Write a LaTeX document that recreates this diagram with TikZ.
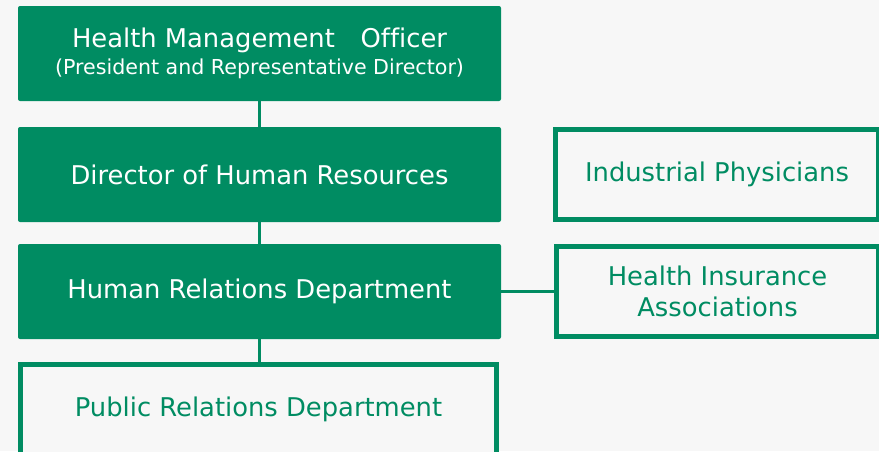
\documentclass[tikz,border=0pt]{standalone}
\usepackage{fontspec}
\setmainfont[Ligatures=NoCommon]{DejaVu Sans}
\definecolor{hgreen}{HTML}{008C62}
\definecolor{bgc}{HTML}{F7F7F7}
\begin{document}
\begin{tikzpicture}[x=1pt,y=-1pt,
  fillbox/.style={rectangle, rounded corners=2pt, fill=hgreen, text=white, minimum width=483pt, minimum height=95pt, inner sep=0pt, align=center, font=\fontsize{25.8}{31}\selectfont},
  linebox/.style={rectangle, draw=hgreen, line width=5pt, fill=bgc, text=hgreen, inner sep=0pt, align=center, font=\fontsize{25.8}{31}\selectfont},
  conn/.style={draw=hgreen, line width=3pt}]
\fill[bgc] (0,0) rectangle (879,451);
\useasboundingbox (0,0) rectangle (879,451);
\node[fillbox] (hmo) at (259.5,53.5) {Health Management\hspace{1em}Officer\\[-4pt]{\fontsize{20.6}{24}\selectfont(President and Representative Director)}};
\node[fillbox] (dhr) at (259.5,174.5) {Director of Human Resources};
\node[fillbox] (hrd) at (259.5,291.5) {Human Relations Department};
\node[linebox, minimum width=476pt, minimum height=90pt] (prd) at (258.5,409.5) {Public Relations Department};
\node[linebox, minimum width=323pt, minimum height=90pt] (ip) at (717,174.5) {Industrial Physicians};
\node[linebox, minimum width=322pt, minimum height=90pt] (hia) at (717.5,291.5) {Health Insurance\\Associations};
\draw[conn] (hmo.south) -- (dhr.north);
\draw[conn] (dhr.south) -- (hrd.north);
\draw[conn] (hrd.south) -- (hrd.south |- prd.north);
\draw[conn] (hrd.east) -- (hia.west);
\end{tikzpicture}
\end{document}
